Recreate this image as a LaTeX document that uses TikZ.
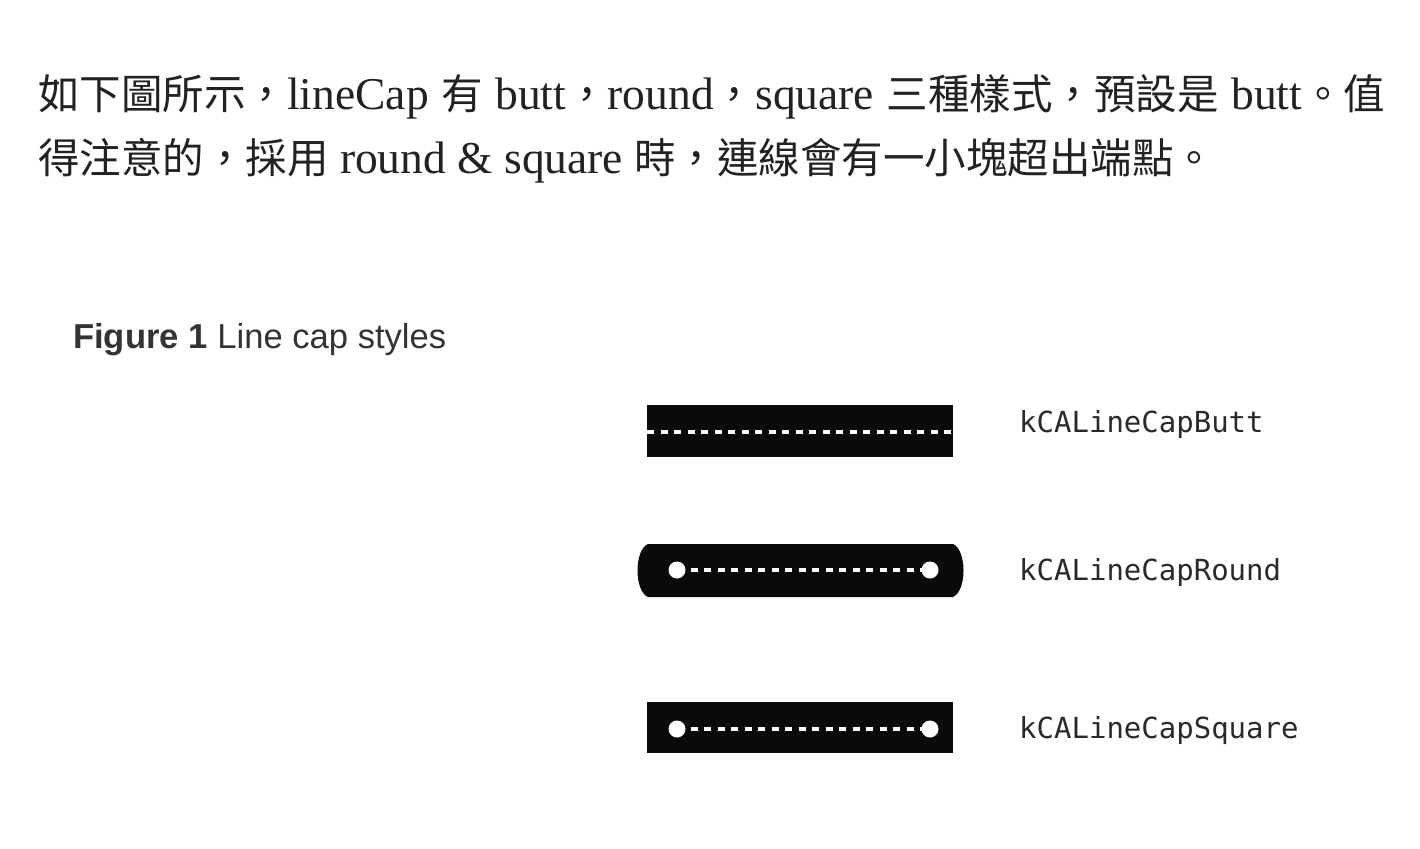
\documentclass[tikz,border=0pt]{standalone}
\usepackage{fontspec}
\setmainfont{Liberation Serif}
\newfontfamily\cjkfont{Noto Sans CJK TC}
\newfontfamily\figsans{Liberation Sans}
\newfontfamily\codemono{DejaVu Sans Mono}
\newcommand{\zh}[1]{{\cjkfont\fontsize{41.5}{46}\selectfont #1}}
\definecolor{bodytext}{HTML}{222222}
\definecolor{captext}{HTML}{333333}
\definecolor{codetext}{HTML}{2A2A2A}
\definecolor{barblack}{HTML}{0A0A0A}
\tikzset{
  bodyline/.style={anchor=base west, inner sep=0pt, text=bodytext, font=\fontsize{45.5}{50}\selectfont},
  caption/.style={anchor=base west, inner sep=0pt, text=captext, font=\figsans\fontsize{34.6}{38}\selectfont},
  codelabel/.style={anchor=base west, inner sep=0pt, text=codetext, font=\codemono\fontsize{29}{32}\selectfont},
  bar/.style={fill=barblack, draw=none},
  dashline/.style={draw=white, line width=3.5pt, dash pattern=on 7pt off 6.5pt},
  endpt/.style={fill=white, draw=none},
}
\begin{document}
\begin{tikzpicture}[x=1pt,y=-1pt]
\useasboundingbox[fill=white] (0,0) rectangle (1420,848);
% paragraph
\node[bodyline] (l1) at (38,110) {\makebox[1347pt][s]{\zh{如下圖所示，}lineCap \zh{有} butt\zh{，}round\zh{，}square \zh{三種樣式，預設是} butt\zh{。值}}};
\node[bodyline] (l2) at (38,173) {\zh{得注意的，採用} round \& square \zh{時，連線會有一小塊超出端點。}};
% caption
\node[caption] (cap) at (73,348) {\textbf{Figure 1} Line cap styles};
% butt
\fill[bar] (647,405) rectangle (953,457);
\draw[dashline] (647,432) -- (955,432);
\node[codelabel] (lb1) at (1019,432) {kCALineCapButt};
% round
\fill[bar] (648,544) -- (953,544) .. controls (967,550) and (967,591) .. (953,597) -- (648,597) .. controls (634,591) and (634,550) .. (648,544) -- cycle;
\coordinate (r1) at (677,570);
\coordinate (r2) at (930,570);
\draw[dashline] (r1) -- (r2);
\fill[endpt] (r1) circle (8.5);
\fill[endpt] (r2) circle (8.5);
\node[codelabel] (lb2) at (1019,580) {kCALineCapRound};
% square
\fill[bar] (647,702) rectangle (953,753);
\coordinate (s1) at (677,729);
\coordinate (s2) at (930,729);
\draw[dashline] (s1) -- (s2);
\fill[endpt] (s1) circle (8.5);
\fill[endpt] (s2) circle (8.5);
\node[codelabel] (lb3) at (1019,738) {kCALineCapSquare};
\end{tikzpicture}
\end{document}
